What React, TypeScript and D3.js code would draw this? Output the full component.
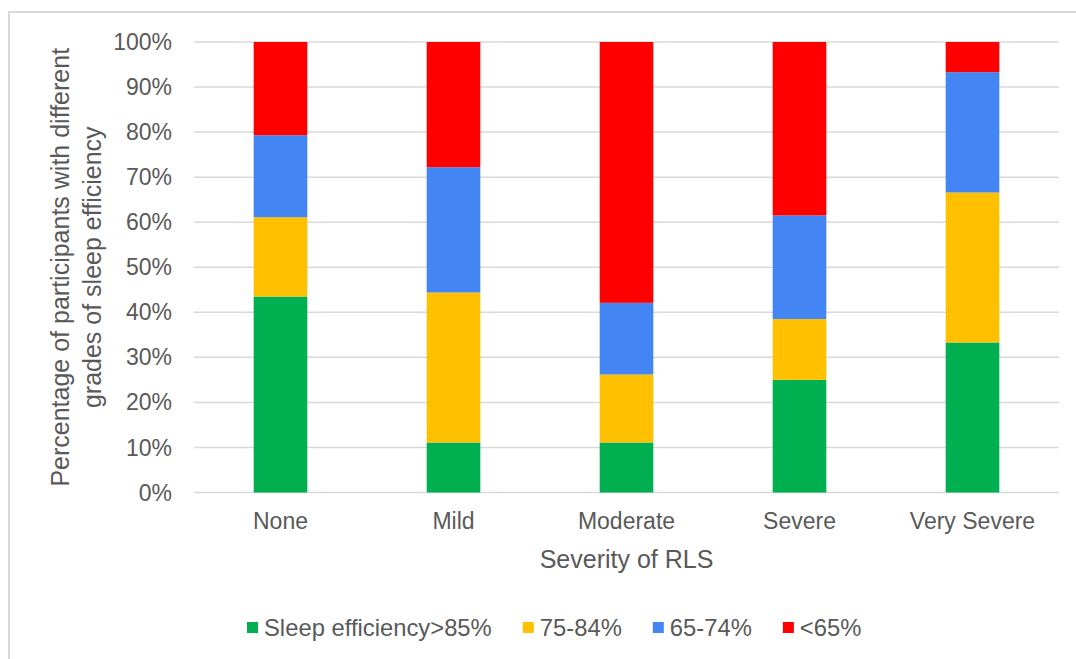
import React, { useEffect, useRef } from "react";
import * as d3 from "d3";

// Severity groups along the x axis
const categories = ["None", "Mild", "Moderate", "Severe", "Very Severe"];

// Sleep-efficiency grades, stacked bottom to top
const seriesNames = ["Sleep efficiency>85%", "75-84%", "65-74%", "<65%"];
const seriesColors = ["#00B050", "#FFC000", "#4485F4", "#FF0000"];

// Percentage of participants in each grade, per severity group
const efficiencyOver85 = [43.5, 11.1, 11.1, 25.0, 33.3];
const efficiency75to84 = [17.6, 33.3, 15.1, 13.5, 33.3];
const efficiency65to74 = [18.2, 27.8, 15.9, 23.0, 26.7];
const efficiencyUnder65 = [20.7, 27.8, 57.9, 38.5, 6.7];

const yTicks = [0, 10, 20, 30, 40, 50, 60, 70, 80, 90, 100];

const W = 1076;
const H = 659;

export default function App() {
  const ref = useRef<SVGSVGElement>(null);

  useEffect(() => {
    const svg = d3.select(ref.current);
    svg.selectAll("*").remove();

    const font = "'Liberation Sans', Arial, Helvetica, sans-serif";
    const textColor = "#595959";
    const gridColor = "#D9D9D9";

    const margin = { left: 194, right: W - 1059, top: 42, bottom: H - 492.5 };

    const x = d3
      .scaleBand<string>()
      .domain(categories)
      .range([margin.left, W - margin.right])
      .paddingInner(0.69)
      .paddingOuter(0.345);

    const y = d3
      .scaleLinear()
      .domain([0, 100])
      .range([H - margin.bottom, margin.top]);

    // outer chart frame (top and left edges)
    svg
      .append("path")
      .attr("d", `M9,${H} L9,12 L${W},12`)
      .attr("fill", "none")
      .attr("stroke", gridColor)
      .attr("stroke-width", 2);

    // horizontal gridlines
    svg
      .append("g")
      .selectAll("line")
      .data(yTicks)
      .join("line")
      .attr("x1", margin.left)
      .attr("x2", W - margin.right)
      .attr("y1", (d) => y(d))
      .attr("y2", (d) => y(d))
      .attr("stroke", gridColor)
      .attr("stroke-width", 1.5);

    // y tick labels
    svg
      .append("g")
      .selectAll("text")
      .data(yTicks)
      .join("text")
      .attr("x", 172)
      .attr("y", (d) => y(d))
      .attr("dy", "0.35em")
      .attr("text-anchor", "end")
      .attr("font-family", font)
      .attr("font-size", 23)
      .attr("fill", textColor)
      .text((d) => `${d}%`);

    // stacked bars
    const rows = categories.map((c, i) => ({
      category: c,
      s0: efficiencyOver85[i],
      s1: efficiency75to84[i],
      s2: efficiency65to74[i],
      s3: efficiencyUnder65[i],
    }));
    const stack = d3.stack<any>().keys(["s0", "s1", "s2", "s3"]);
    const layers = stack(rows);

    svg
      .append("g")
      .selectAll("g")
      .data(layers)
      .join("g")
      .attr("fill", (_d, i) => seriesColors[i])
      .selectAll("rect")
      .data((d) => d)
      .join("rect")
      .attr("x", (d: any) => x(d.data.category)!)
      .attr("width", x.bandwidth())
      .attr("y", (d) => y(d[1]))
      .attr("height", (d) => y(d[0]) - y(d[1]));

    // x tick labels
    svg
      .append("g")
      .selectAll("text")
      .data(categories)
      .join("text")
      .attr("x", (d) => x(d)! + x.bandwidth() / 2)
      .attr("y", 521)
      .attr("dy", "0.35em")
      .attr("text-anchor", "middle")
      .attr("font-family", font)
      .attr("font-size", 23)
      .attr("fill", textColor)
      .text((d) => d);

    // x axis title
    const plotCenterX = (margin.left + W - margin.right) / 2;
    svg
      .append("text")
      .attr("x", plotCenterX)
      .attr("y", 559)
      .attr("dy", "0.35em")
      .attr("text-anchor", "middle")
      .attr("font-family", font)
      .attr("font-size", 25)
      .attr("fill", textColor)
      .text("Severity of RLS");

    // y axis title (two lines, rotated)
    const plotCenterY = (y(0) + y(100)) / 2;
    const yTitle = svg
      .append("text")
      .attr("transform", `translate(0,${plotCenterY}) rotate(-90)`)
      .attr("text-anchor", "middle")
      .attr("font-family", font)
      .attr("font-size", 25)
      .attr("fill", textColor);
    yTitle
      .append("tspan")
      .attr("x", 0)
      .attr("y", 60)
      .attr("dy", "0.35em")
      .text("Percentage of participants with different");
    yTitle
      .append("tspan")
      .attr("x", 0)
      .attr("y", 92)
      .attr("dy", "0.35em")
      .text("grades of sleep efficiency");

    // legend
    const legend = svg.append("g").attr("transform", "translate(247,627.5)");
    let cursor = 0;
    seriesNames.forEach((name, i) => {
      const item = legend.append("g").attr("transform", `translate(${cursor},0)`);
      item
        .append("rect")
        .attr("x", 0)
        .attr("y", -5.5)
        .attr("width", 11)
        .attr("height", 11)
        .attr("fill", seriesColors[i]);
      const t = item
        .append("text")
        .attr("x", 17)
        .attr("y", 0)
        .attr("dy", "0.35em")
        .attr("font-family", font)
        .attr("font-size", 23.8)
        .attr("fill", textColor)
        .text(name);
      const len = (t.node() as SVGTextElement).getComputedTextLength();
      cursor += 17 + len + 31;
    });
  }, []);

  return (
    <svg
      ref={ref}
      width={W}
      height={H}
      style={{ position: "absolute", left: 0, top: 0, background: "#fff" }}
    />
  );
}
